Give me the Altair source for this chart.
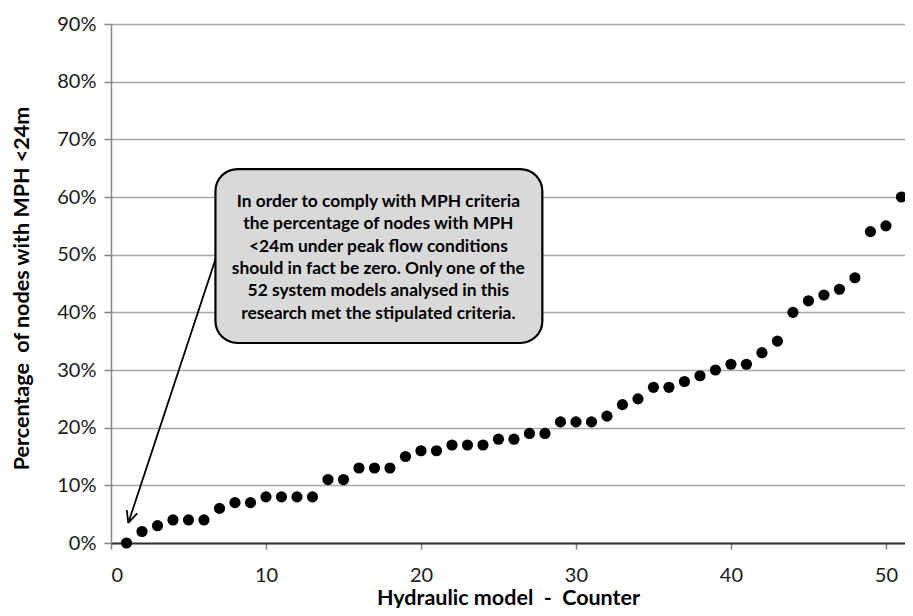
import altair as alt
import pandas as pd

# ---- data ----
counter = list(range(1, 53))
pct = [0, 2, 3, 4, 4, 4, 6, 7, 7, 8, 8, 8, 8, 11, 11, 13, 13, 13, 15, 16, 16,
       17, 17, 17, 18, 18, 19, 19, 21, 21, 21, 22, 24, 25, 27, 27, 28, 29, 30,
       31, 31, 33, 35, 40, 42, 43, 44, 46, 54, 55, 60, 81]
y_ticks = [0, 0.1, 0.2, 0.3, 0.4, 0.5, 0.6, 0.7, 0.8, 0.9]
x_ticks = [0, 10, 20, 30, 40, 50]

note_lines = [
    "In order to comply with MPH criteria",
    "the percentage of nodes with MPH",
    "<24m under peak flow conditions",
    "should in fact be zero. Only one of the",
    "52 system models analysed in this",
    "research met the stipulated criteria.",
]

# annotation geometry (in data units)
box = pd.DataFrame({"x": [6.74], "x2": [27.83], "y": [0.3468], "y2": [0.6485]})
note = pd.DataFrame({"x": [17.25], "y": [0.5918], "t": [note_lines]})
arrow = pd.DataFrame({
    "x": [6.79, 1.116, 1.116],
    "y": [0.496, 0.0347, 0.0347],
    "x2": [1.116, 1.69, 1.02],
    "y2": [0.0347, 0.0512, 0.0570],
})

df = pd.DataFrame({"counter": counter, "share": [p / 100 for p in pct]})

FONT = "Lato"
NB = "\u00a0"
xscale = alt.Scale(domain=[0, 51.23], nice=False, zero=False)
yscale = alt.Scale(domain=[0, 0.9], nice=False)

xaxis = alt.Axis(
    values=x_ticks, title=f"Hydraulic model{NB}{NB}-{NB}{NB}Counter", grid=False,
    domainColor="#333333", domainWidth=2, tickColor="#808080", tickWidth=1.5,
    tickSize=6, labelPadding=16, labelFont=FONT, labelFontSize=20,
    labelColor="#1a1a1a", titleFont=FONT, titleFontSize=21.5, titleFontWeight="bold",
    titleColor="#000000", titleBaseline="alphabetic", titleY=61,
)
yaxis = alt.Axis(
    values=y_ticks, format=".0%", title=f"Percentage{NB}{NB}of nodes with MPH <24m",
    grid=True, gridColor="#a6a6a6", gridWidth=1.5,
    domainColor="#868686", domainWidth=1.5, tickColor="#868686", tickWidth=1.5,
    tickSize=7, labelPadding=8, labelFont=FONT, labelFontSize=20,
    labelColor="#1a1a1a", titleFont=FONT, titleFontSize=21.5, titleFontWeight="bold",
    titleColor="#000000", titleBaseline="alphabetic", titleX=-83, titleY=264,
)

points = alt.Chart(df).mark_circle(size=125, color="#000000", opacity=1, clip=False).encode(
    x=alt.X("counter:Q", scale=xscale, axis=xaxis),
    y=alt.Y("share:Q", scale=yscale, axis=yaxis),
)

arrow_layer = alt.Chart(arrow).mark_rule(color="#000000", strokeWidth=1.8).encode(
    x=alt.X("x:Q", scale=xscale), y=alt.Y("y:Q", scale=yscale),
    x2="x2:Q", y2="y2:Q",
)

box_layer = alt.Chart(box).mark_rect(
    fill="#d9d9d9", stroke="#000000", strokeWidth=2.2, cornerRadius=22
).encode(
    x=alt.X("x:Q", scale=xscale), x2="x2:Q",
    y=alt.Y("y:Q", scale=yscale), y2="y2:Q",
)

text_layer = alt.Chart(note).mark_text(
    font=FONT, fontSize=17.4, fontWeight="bold", color="#000000",
    align="center", baseline="middle", lineHeight=22.4,
).encode(
    x=alt.X("x:Q", scale=xscale), y=alt.Y("y:Q", scale=yscale), text="t",
)

chart = alt.layer(points, arrow_layer, box_layer, text_layer).properties(
    width=794, height=519,
    autosize=alt.AutoSizeParams(type="none"),
    padding={"left": 103, "top": 16, "right": 0, "bottom": 65},
).configure_view(stroke=None)

chart.save("out.html", embed_options={"renderer": "svg", "actions": False})
